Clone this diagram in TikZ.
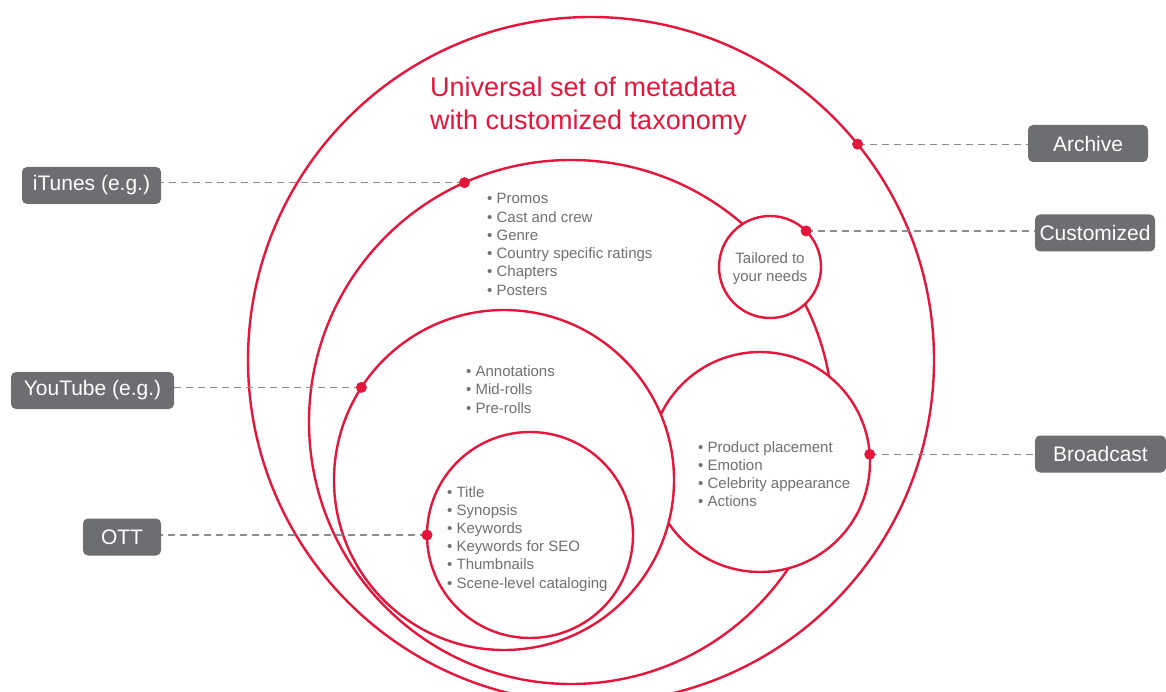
\documentclass[tikz,border=0pt]{standalone}
\usepackage{fontspec}
\setmainfont{Liberation Sans}
\definecolor{accent}{HTML}{E4163C}
\definecolor{tagbg}{HTML}{6D6E71}
\definecolor{textgray}{HTML}{6F7072}
\definecolor{linegray}{HTML}{8C8C8C}
\begin{document}
\begin{tikzpicture}[x=1pt,y=-1pt,
  ring/.style={circle, draw=accent, line width=2.4pt, fill=white, inner sep=0pt, outer sep=0pt, minimum size=#1},
  dot/.style={circle, fill=accent, inner sep=0pt, outer sep=0pt, minimum size=11pt},
  tag/.style={rounded corners=5pt, fill=tagbg, text=white, font=\fontsize{21}{25}\selectfont, inner sep=0pt, minimum height=37pt},
  link/.style={draw=linegray, dash pattern=on 7pt off 5pt, line width=1.2pt},
  item/.style={anchor=base west, inner sep=0pt, text=textgray, font=\fontsize{15}{18}\selectfont},
  title/.style={anchor=base west, inner sep=0pt, text=accent, font=\fontsize{27}{33}\selectfont},
]
\useasboundingbox (0,0) rectangle (1166,692);
\fill[white] (0,0) rectangle (1166,692);

% circles
\node[ring=686pt] (c1) at (591,360) {};
\node[ring=524pt] (c2) at (571,422) {};
\node[ring=220pt] (c5) at (760,462) {};
\node[ring=102pt] (c6) at (770,267) {};
\node[ring=340pt] (c3) at (504,480) {};
\node[ring=206pt] (c4) at (530,535) {};

% labels
\node[tag, minimum width=120pt] (archive) at (1088,143.5) {Archive};
\node[tag, minimum width=139pt] (itunes) at (91.5,185.5) {iTunes (e.g.)};
\node[tag, minimum width=120pt] (custom) at (1095,233) {Customized};
\node[tag, minimum width=163pt] (youtube) at (92.5,390.5) {YouTube (e.g.)};
\node[tag, minimum width=131pt] (broad) at (1100.5,454) {Broadcast};
\node[tag, minimum width=78pt] (ott) at (122,537) {OTT};

% connector anchor points on circles
\coordinate (pa) at (c1.39);
\coordinate (pi) at (c2.114.6);
\coordinate (pc) at (c6.45);
\coordinate (py) at (c3.147.7);
\coordinate (pb) at (c5.4.2);
\coordinate (po) at (c4.180);

\draw[link] (pa) -- (pa -| archive.west);
\draw[link] (pi) -- (pi -| itunes.east);
\draw[link] (pc) -- (pc -| custom.west);
\draw[link] (py) -- (py -| youtube.east);
\draw[link] (pb) -- (pb -| broad.west);
\draw[link] (po) -- (po -| ott.east);

\node[dot] (da) at (pa) {};
\node[dot] (di) at (pi) {};
\node[dot] (dc) at (pc) {};
\node[dot] (dy) at (py) {};
\node[dot] (db) at (pb) {};
\node[dot] (do) at (po) {};

% title
\node[title] (t1) at (430,97) {Universal set of metadata};
\node[title] (t2) at (430,130) {with customized taxonomy};

% lists
\foreach \t [count=\i from 0] in {Promos,Cast and crew,Genre,Country specific ratings,Chapters,Posters}
  \node[item] (p\i) at (487,204+18.2*\i) {• \t};
\foreach \t [count=\i from 0] in {Annotations,Mid-rolls,Pre-rolls}
  \node[item] (y\i) at (466,376+18.5*\i) {• \t};
\foreach \t [count=\i from 0] in {Title,Synopsis,Keywords,Keywords for SEO,Thumbnails,Scene-level cataloging}
  \node[item] (o\i) at (447,497+18.2*\i) {• \t};
\foreach \t [count=\i from 0] in {Product placement,Emotion,Celebrity appearance,Actions}
  \node[item] (b\i) at (698,452+18*\i) {• \t};

\node[item, anchor=base] (tl1) at (770,264) {Tailored to};
\node[item, anchor=base] (tl2) at (770,282) {your needs};
\end{tikzpicture}
\end{document}
